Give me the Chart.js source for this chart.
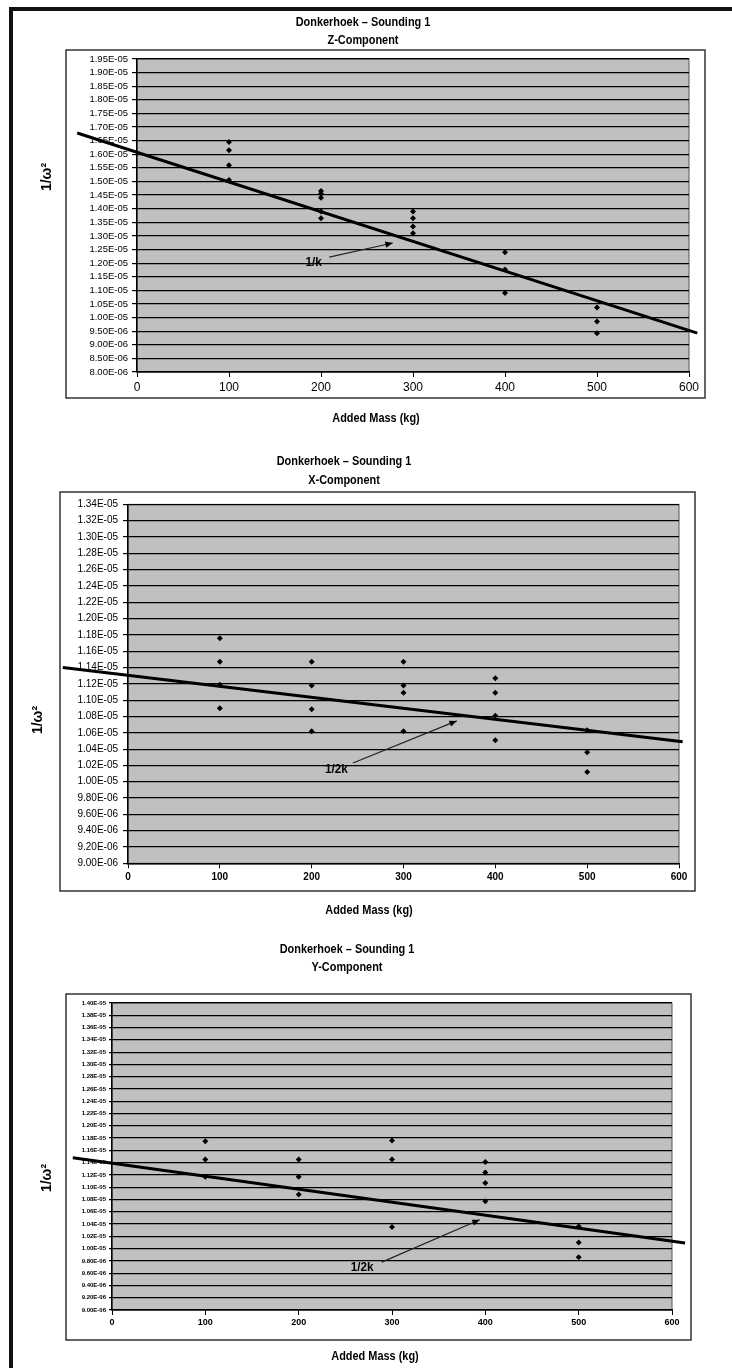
<!DOCTYPE html>
<html>
<head>
<meta charset="utf-8">
<script src="https://cdn.jsdelivr.net/npm/chart.js"></script>
<style>
  body { margin: 0; background: #fff; width: 732px; height: 1368px; overflow: hidden; position: relative; }
  #frame { position: absolute; left: 9px; top: 7px; width: 800px; height: 1420px; border-left: 4px solid #111; border-top: 4px solid #111; }
  canvas { position: absolute; left: 0; }
</style>
</head>
<body>
<div id="frame"></div>
<canvas id="zChart" width="732" height="440" style="top:0px;width:732px;height:440px"></canvas>
<canvas id="xChart" width="732" height="485" style="top:440px;width:732px;height:485px"></canvas>
<canvas id="yChart" width="732" height="443" style="top:925px;width:732px;height:443px"></canvas>
<script>
const xTicks = [0, 100, 200, 300, 400, 500, 600]

// Z-component
const zMass = [100, 100, 100, 100, 200, 200, 200, 200, 200, 300, 300, 300, 300, 400, 400, 400, 500, 500, 500]
const zInv = [1.645e-5, 1.615e-5, 1.56e-5, 1.505e-5, 1.465e-5, 1.455e-5, 1.44e-5, 1.39e-5, 1.365e-5,
  1.39e-5, 1.365e-5, 1.335e-5, 1.31e-5, 1.24e-5, 1.177e-5, 1.09e-5, 1.037e-5, 9.86e-6, 9.42e-6]
const zTrendMass = [-65, 609]
const zTrendInv = [1.678e-5, 9.43e-6]
const zTickLabels = ['8.00E-06', '8.50E-06', '9.00E-06', '9.50E-06', '1.00E-05', '1.05E-05', '1.10E-05', '1.15E-05',
  '1.20E-05', '1.25E-05', '1.30E-05', '1.35E-05', '1.40E-05', '1.45E-05', '1.50E-05', '1.55E-05', '1.60E-05',
  '1.65E-05', '1.70E-05', '1.75E-05', '1.80E-05', '1.85E-05', '1.90E-05', '1.95E-05']
const zNoteText = '1/k'
const zNoteAt = [192, 1.204e-5]
const zArrow = [[209, 1.222e-5], [278, 1.274e-5]]

// X-component
const xMass = [100, 100, 100, 100, 200, 200, 200, 200, 300, 300, 300, 300, 400, 400, 400, 400, 500, 500, 500]
const xInv = [1.176e-5, 1.147e-5, 1.119e-5, 1.09e-5, 1.147e-5, 1.118e-5, 1.089e-5, 1.062e-5,
  1.147e-5, 1.118e-5, 1.109e-5, 1.062e-5, 1.127e-5, 1.109e-5, 1.081e-5, 1.051e-5, 1.063e-5, 1.036e-5, 1.012e-5]
const xTrendMass = [-71, 604]
const xTrendInv = [1.14e-5, 1.049e-5]
const xTickLabels = ['9.00E-06', '9.20E-06', '9.40E-06', '9.60E-06', '9.80E-06', '1.00E-05', '1.02E-05', '1.04E-05',
  '1.06E-05', '1.08E-05', '1.10E-05', '1.12E-05', '1.14E-05', '1.16E-05', '1.18E-05', '1.20E-05', '1.22E-05',
  '1.24E-05', '1.26E-05', '1.28E-05', '1.30E-05', '1.32E-05', '1.34E-05']
const xNoteText = '1/2k'
const xNoteAt = [227, 1.0157e-5]
const xArrow = [[245, 1.023e-5], [358, 1.0746e-5]]

// Y-component
const yMass = [100, 100, 100, 200, 200, 200, 300, 300, 300, 400, 400, 400, 400, 500, 500, 500]
const yInv = [1.175e-5, 1.145e-5, 1.117e-5, 1.145e-5, 1.117e-5, 1.088e-5, 1.176e-5, 1.145e-5, 1.035e-5,
  1.141e-5, 1.124e-5, 1.107e-5, 1.077e-5, 1.036e-5, 1.01e-5, 9.86e-6]
const yTrendMass = [-42, 614]
const yTrendInv = [1.148e-5, 1.009e-5]
const yTickLabels = ['9.00E-06', '9.20E-06', '9.40E-06', '9.60E-06', '9.80E-06', '1.00E-05', '1.02E-05', '1.04E-05',
  '1.06E-05', '1.08E-05', '1.10E-05', '1.12E-05', '1.14E-05', '1.16E-05', '1.18E-05', '1.20E-05', '1.22E-05',
  '1.24E-05', '1.26E-05', '1.28E-05', '1.30E-05', '1.32E-05', '1.34E-05', '1.36E-05', '1.38E-05', '1.40E-05']
const yNoteText = '1/2k'
const yNoteAt = [268, 9.7e-6]
const yArrow = [[289, 9.78e-6], [394, 1.047e-5]]

const TITLE = 'Donkerhoek – Sounding 1'
const FONT = "'Liberation Sans', Arial, sans-serif"

function pts(xs, ys) {
  return xs.map((x, i) => ({x: x, y: ys[i]}))
}

// bold text squeezed sideways, the way the scanned original looks
function narrowText(ctx, text, x, y, size, squeeze) {
  ctx.save()
  ctx.translate(x, y)
  ctx.scale(squeeze, 1)
  ctx.font = 'bold ' + size + 'px ' + FONT
  ctx.fillText(text, 0, 0)
  ctx.restore()
}

function makeDecor(c) {
  return {
    id: 'decor',
    beforeDraw(chart) {
      const ctx = chart.ctx
      const a = chart.chartArea
      const b = c.box
      ctx.save()
      ctx.fillStyle = '#fff'
      ctx.fillRect(b[0], b[1], b[2] - b[0], b[3] - b[1])
      ctx.strokeStyle = '#333'
      ctx.lineWidth = 1.5
      ctx.strokeRect(b[0], b[1], b[2] - b[0], b[3] - b[1])
      ctx.fillStyle = '#c0c0c0'
      ctx.fillRect(a.left, a.top, a.right - a.left, a.bottom - a.top)
      ctx.strokeStyle = '#555'
      ctx.lineWidth = 1
      ctx.strokeRect(a.left, a.top, a.right - a.left, a.bottom - a.top)
      ctx.restore()
    },
    afterDraw(chart) {
      const ctx = chart.ctx
      const sx = chart.scales.x
      const sy = chart.scales.y
      ctx.save()
      ctx.fillStyle = '#000'
      ctx.textAlign = 'center'
      ctx.textBaseline = 'middle'
      narrowText(ctx, TITLE, c.titleX, c.titleY[0], 13, 0.84)
      narrowText(ctx, c.sub, c.titleX, c.titleY[1], 13, 0.84)
      narrowText(ctx, 'Added Mass (kg)', c.xTitle[0], c.xTitle[1], 13, 0.84)
      ctx.save()
      ctx.translate(c.yTitle[0], c.yTitle[1])
      ctx.rotate(-Math.PI / 2)
      ctx.font = 'bold 14px ' + FONT
      ctx.fillText('1/ω²', 0, 0)
      ctx.restore()
      // annotation with arrow
      narrowText(ctx, c.note, sx.getPixelForValue(c.noteAt[0]), sy.getPixelForValue(c.noteAt[1]), 13, 0.9)
      const x1 = sx.getPixelForValue(c.arrow[0][0]), y1 = sy.getPixelForValue(c.arrow[0][1])
      const x2 = sx.getPixelForValue(c.arrow[1][0]), y2 = sy.getPixelForValue(c.arrow[1][1])
      ctx.strokeStyle = '#222'
      ctx.lineWidth = 1.2
      ctx.beginPath()
      ctx.moveTo(x1, y1)
      ctx.lineTo(x2, y2)
      ctx.stroke()
      const ang = Math.atan2(y2 - y1, x2 - x1)
      ctx.beginPath()
      ctx.moveTo(x2, y2)
      ctx.lineTo(x2 - 8 * Math.cos(ang - 0.4), y2 - 8 * Math.sin(ang - 0.4))
      ctx.lineTo(x2 - 8 * Math.cos(ang + 0.4), y2 - 8 * Math.sin(ang + 0.4))
      ctx.closePath()
      ctx.fill()
      ctx.restore()
    }
  }
}

function makeChart(id, c) {
  const canvas = document.getElementById(id)
  const vals = c.yLabels.map(Number)
  return new Chart(canvas, {
    type: 'scatter',
    data: {
      datasets: [
        {
          data: pts(c.mass, c.inv),
          pointStyle: 'rectRot',
          pointRadius: 3,
          backgroundColor: '#000',
          borderColor: '#000',
          borderWidth: 0
        },
        {
          data: pts(c.trendX, c.trendY),
          showLine: true,
          pointRadius: 0,
          borderColor: '#000',
          borderWidth: 3,
          clip: false
        }
      ]
    },
    options: {
      responsive: false,
      animation: false,
      events: [],
      layout: {
        padding: {
          left: c.plot[0] - 60,
          top: c.plot[1],
          right: canvas.width - c.plot[2],
          bottom: canvas.height - c.plot[3] - 30
        }
      },
      scales: {
        x: {
          type: 'linear',
          min: 0,
          max: 600,
          afterBuildTicks: s => { s.ticks = xTicks.map(v => ({value: v})) },
          afterFit: s => { s.height = 30 },
          grid: { drawOnChartArea: false, color: '#000', tickLength: 5 },
          border: { color: '#000', width: 1.5 },
          ticks: { color: '#000', autoSkip: false, maxRotation: 0, padding: c.xPad, font: c.xFont }
        },
        y: {
          type: 'linear',
          min: vals[0],
          max: vals[vals.length - 1],
          afterBuildTicks: s => { s.ticks = vals.map(v => ({value: v})) },
          afterFit: s => { s.width = 60 },
          grid: { color: '#000', lineWidth: 1.2, tickLength: c.yTick },
          border: { color: '#000', width: 1.5 },
          ticks: {
            color: '#000',
            autoSkip: false,
            padding: c.yPad,
            font: c.yFont,
            callback: (v, i) => c.yLabels[i]
          }
        }
      },
      plugins: {
        legend: { display: false },
        tooltip: { enabled: false }
      }
    },
    plugins: [makeDecor(c)]
  })
}

makeChart('zChart', {
  mass: zMass, inv: zInv, trendX: zTrendMass, trendY: zTrendInv, yLabels: zTickLabels,
  note: zNoteText, noteAt: zNoteAt, arrow: zArrow, sub: 'Z-Component',
  box: [66, 50, 705, 398], plot: [137, 59, 689, 372],
  titleX: 363, titleY: [22, 40], xTitle: [376, 418], yTitle: [47, 177],
  xFont: { family: FONT, size: 12 }, xPad: 3, yFont: { family: FONT, size: 9.5 }, yTick: 5, yPad: 4
})

makeChart('xChart', {
  mass: xMass, inv: xInv, trendX: xTrendMass, trendY: xTrendInv, yLabels: xTickLabels,
  note: xNoteText, noteAt: xNoteAt, arrow: xArrow, sub: 'X-Component',
  box: [60, 52, 695, 451], plot: [128, 64.4, 679, 423.3],
  titleX: 344, titleY: [21, 40], xTitle: [369, 470], yTitle: [38, 280],
  xFont: { family: FONT, size: 10, weight: 'bold' }, xPad: 3, yFont: { family: FONT, size: 10 }, yTick: 5, yPad: 5
})

makeChart('yChart', {
  mass: yMass, inv: yInv, trendX: yTrendMass, trendY: yTrendInv, yLabels: yTickLabels,
  note: yNoteText, noteAt: yNoteAt, arrow: yArrow, sub: 'Y-Component',
  box: [66, 69, 691, 415], plot: [112, 78, 672, 385],
  titleX: 347, titleY: [24, 42], xTitle: [375, 431], yTitle: [47, 253],
  xFont: { family: FONT, size: 9, weight: 'bold' }, xPad: 2, yFont: { family: FONT, size: 6, weight: 'bold' }, yTick: 3, yPad: 3
})
</script>
</body>
</html>
